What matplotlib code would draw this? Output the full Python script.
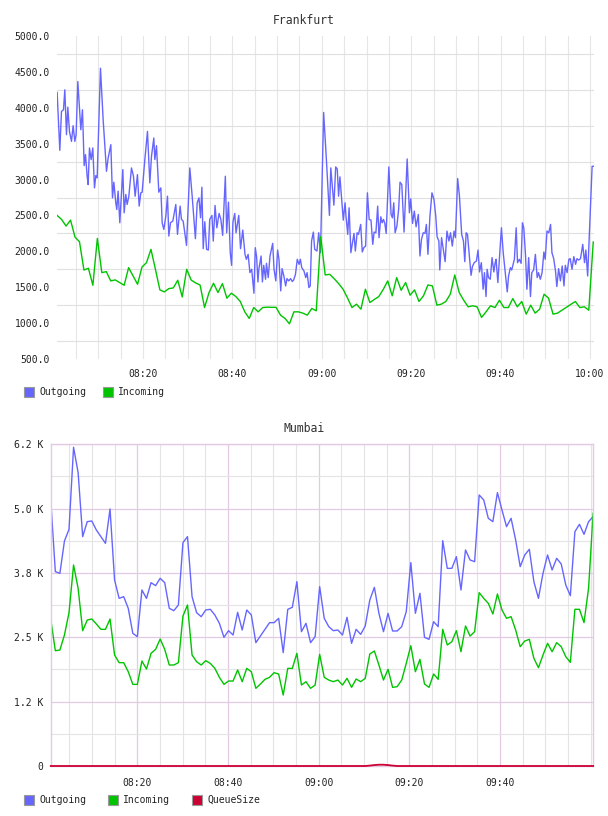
import numpy as np
import matplotlib
matplotlib.use("Agg")
import matplotlib.pyplot as plt
from matplotlib.patches import Rectangle

plt.rcParams['font.family'] = ['DejaVu Sans Mono', 'DejaVu Sans']

# x positions are minutes after 08:00
time_labels = ["08:20", "08:40", "09:00", "09:20", "09:40", "10:00"]

# ---- Frankfurt ----
fra_out_min = [
    0.75, 1.35, 1.72, 2.17, 2.47, 2.84, 3.14, 3.51, 3.96, 4.33, 4.71, 5.0, 5.38, 6.05, 6.42,
    6.8, 7.1, 7.47, 7.69, 7.99, 8.36, 8.73, 9.11, 9.41, 9.71, 10.45, 11.05, 11.8, 12.17, 12.77,
    13.14, 13.44, 13.88, 14.1, 14.4, 14.78, 15.45, 15.75, 16.12, 16.42, 16.8, 17.39, 17.84, 18.21,
    18.73, 19.11, 19.48, 19.78, 20.38, 20.97, 21.5, 21.87, 22.39, 22.62, 22.99, 23.51, 23.96,
    24.26, 24.63, 25.08, 25.45, 25.75, 26.12, 26.64, 27.31, 27.69, 28.28, 28.58, 28.96, 29.71,
    30.45, 31.0, 31.7, 32.1, 32.5, 32.85, 33.15, 33.45, 33.8, 34.2, 34.6, 34.9, 35.4, 35.7, 36.1,
    36.5, 37.0, 37.4, 37.8, 38.4, 38.7, 39.1, 39.5, 39.8, 40.1, 40.5, 40.8, 41.4, 41.8, 42.3,
    42.8, 43.1, 43.5, 43.9, 44.3, 44.8, 45.1, 45.4, 45.7, 45.9, 46.4, 46.7, 47.0, 47.4, 47.6,
    48.0, 48.4, 49.0, 49.3, 49.7, 50.1, 50.4, 50.8, 51.1, 51.5, 51.9, 52.2, 52.6, 53.0, 53.4,
    53.7, 54.1, 54.5, 54.9, 55.2, 55.5, 56.0, 56.4, 56.7, 57.1, 57.4, 57.7, 58.1, 58.4, 58.9,
    59.3, 59.7, 60.4, 61.0, 61.7, 62.0, 62.7, 63.1, 63.45, 63.75, 64.05, 64.8, 65.2, 65.4, 65.8,
    66.1, 66.5, 67.2, 67.5, 67.9, 68.2, 68.7, 69.05, 69.4, 69.8, 70.2, 70.6, 71.0, 71.4, 71.7,
    72.1, 72.5, 72.8, 73.2, 73.5, 73.8, 74.1, 74.4, 75.0, 75.5, 75.8, 76.1, 76.4, 76.8, 77.2,
    77.5, 77.9, 78.4, 79.1, 79.6, 79.9, 80.3, 80.7, 81.1, 81.6, 81.96, 82.3, 82.7, 83.1, 83.4,
    83.75, 84.2, 84.65, 85.1, 85.5, 85.8, 86.2, 86.4, 86.8, 87.2, 87.6, 88.0, 88.45, 88.8, 89.2,
    89.6, 89.9, 90.4, 90.8, 91.3, 91.7, 92.0, 92.3, 92.6, 93.4, 93.7, 94.1, 94.6, 94.96, 95.3,
    95.7, 96.1, 96.4, 96.75, 97.0, 97.3, 97.7, 98.1, 98.5, 98.8, 99.0, 99.4, 100.2, 100.6, 100.9,
    101.5, 101.8, 102.2, 102.5, 103.1, 103.5, 103.8, 104.2, 104.6, 104.9, 105.2, 105.6, 105.9,
    106.3, 106.7, 107.0, 107.4, 107.8, 108.2, 108.5, 108.9, 109.3, 109.7, 110.0, 110.4, 110.8,
    111.2, 111.5, 111.9, 112.3, 112.6, 113.0, 113.4, 113.8, 114.2, 114.5, 114.9, 115.3, 115.6,
    116.0, 116.4, 116.8, 117.1, 117.5, 117.9, 118.4, 118.8, 119.1, 119.5, 120.1, 120.5, 120.9,
]
fra_out_val = [
    4213, 3407, 3949, 3972, 4250, 3625, 4009, 3671, 3532, 3750, 3532, 3625, 4366, 3694, 3972,
    3194, 3347, 3046, 2930, 3440, 3278, 3440, 2884, 3055, 3023, 4551, 3833, 3115, 3301, 3486,
    2745, 2963, 2676, 2583, 2838, 2398, 3139, 2537, 2792, 2653, 2768, 3162, 3046, 2768,
    3069, 2630, 2815, 2824, 3278, 3671, 2954, 3324, 3579, 3278, 3472, 2824, 2884,
    2398, 2305, 2491, 2768, 2213, 2398, 2421, 2653, 2236, 2630, 2444, 2421, 2083,
    3162, 2750, 2176, 2676, 2745, 2467, 2893, 2037, 2412, 2028, 2018, 2444, 2500, 2143, 2639,
    2328, 2528, 2444, 2222, 3046, 2259, 2685, 1981, 1805, 2407, 2528, 2259, 2500, 2037, 2296,
    1958, 1889, 1958, 1703, 1750, 1416, 2051, 1926, 1574, 1750, 1935, 1574, 1805, 1611, 1833,
    1634, 1935, 2111, 1750, 1588, 2018, 1889, 1449, 1759, 1657, 1518, 1620, 1588, 1620, 1579,
    1602, 1680, 1889, 1819, 1889, 1773, 1727, 1634, 1703, 1495, 1518, 2143, 2268, 2028, 2004,
    2259, 1981, 3935, 3300, 2500, 3162, 2643, 3176, 3148, 2768, 3037, 2435, 2676, 2491, 2236,
    2606, 1981, 2250, 2004, 2259, 2236, 2375, 1991, 2051, 2074, 2815, 2444, 2435, 2097, 2268,
    2259, 2630, 2190, 2481, 2398, 2444, 2389, 2250, 3176, 2514, 2467, 2676, 2259, 2352, 2592,
    2963, 2930, 2268, 3287, 2537, 2731, 2389, 2560, 2342, 2514, 1935, 2166, 2259, 2250, 2375,
    1958, 2491, 2815, 2722, 2491, 2203, 2143, 1740, 2190, 2028, 1856, 2282, 2143, 2259, 2074,
    2282, 2190, 3014, 2768, 2236, 2143, 1856, 2259, 2236, 1666, 1787, 1842, 1865, 2018, 1713,
    1842, 1472, 1703, 1370, 1750, 1634, 1611, 1912, 1713, 1842, 1889, 1565, 2328, 1981, 1796,
    1435, 1657, 1773, 1740, 1889, 2328, 1842, 1889, 1833, 2398, 2328, 1935, 1472,
    1912, 1370, 1703, 1740, 1958, 1634, 1703, 1611, 1703, 1991, 1889, 2282, 2259,
    2375, 1981, 1898, 1727, 1509, 1759, 1588, 1796, 1518, 1805, 1703, 1889, 1898,
    1750, 1926, 1819, 1898, 1879, 1898, 2097, 1842, 2018, 1657, 2583, 3185, 3185,
]

fra_in_start = 0.75   # 08:00:45, one sample per minute
fra_in_val = [
    2500, 2444, 2352, 2435, 2199, 2134, 1740, 1764, 1527, 2180,
    1704, 1717, 1588, 1602, 1565, 1527, 1773, 1657, 1541, 1782,
    1842, 2028, 1750, 1463, 1435, 1481, 1490, 1597, 1365, 1750,
    1600, 1560, 1530, 1217, 1426, 1555, 1426, 1551, 1347, 1417,
    1370, 1301, 1157, 1065, 1217, 1157, 1217, 1222, 1220, 1220,
    1111, 1065, 990, 1157, 1157, 1139, 1111, 1204, 1171, 2204,
    1671, 1680, 1620, 1551, 1472, 1350, 1217, 1264, 1194, 1472,
    1287, 1330, 1370, 1470, 1588, 1380, 1634, 1458, 1565, 1389,
    1463, 1301, 1380, 1532, 1518, 1250, 1264, 1301, 1403, 1671,
    1426, 1319, 1227, 1241, 1227, 1079, 1157, 1241, 1217, 1319,
    1217, 1217, 1342, 1227, 1301, 1125, 1250, 1139, 1194, 1403,
    1347, 1125, 1139, 1180, 1220, 1262, 1301, 1217, 1227, 1180,
    2130,
]

# ---- Mumbai ----
mum_start = 55 / 60.0   # 08:00:55
mum_step = 60.3 / 60.0
mum_out = [
    5155, 3776, 3743, 4371, 4598, 6192, 5699, 4456, 4747, 4760,
    4585, 4456, 4326, 4993, 3614, 3257, 3290, 3063, 2577, 2513,
    3420, 3257, 3562, 3504, 3646, 3562, 3063, 3018, 3128, 4339,
    4456, 3290, 2979, 2901, 3031, 3044, 2934, 2772, 2500, 2629,
    2545, 2985, 2642, 3031, 2934, 2396, 2526, 2655, 2785, 2785,
    2869, 2202, 3044, 3083, 3582, 2610, 2772, 2396, 2513, 3484,
    2869, 2707, 2629, 2642, 2545, 2888, 2383, 2655, 2558, 2720,
    3225, 3471, 2966, 2610, 2966, 2623, 2623, 2707, 3000, 3951,
    2966, 3355, 2500, 2461, 2804, 2707, 4378, 3840, 3840, 4067,
    3419, 4197, 4002, 3970, 5265, 5168, 4812, 4747, 5311, 4974,
    4650, 4812, 4391, 3873, 4100, 4210, 3581, 3257, 3743, 4100,
    3808, 4035, 3925, 3517, 3309, 4553, 4695, 4501, 4747, 4844,
]
mum_in = [
    2849, 2240, 2253, 2545, 2979, 3905, 3452, 2629, 2836, 2856,
    2759, 2655, 2655, 2856, 2156, 2007, 2007, 1832, 1586, 1586,
    2040, 1884, 2189, 2266, 2467, 2266, 1962, 1962, 2007, 2914,
    3128, 2156, 2027, 1962, 2046, 1994, 1897, 1722, 1586, 1651,
    1651, 1865, 1638, 1897, 1832, 1509, 1593, 1684, 1722, 1813,
    1787, 1379, 1897, 1897, 2189, 1573, 1638, 1509, 1573, 2169,
    1722, 1670, 1638, 1670, 1573, 1703, 1528, 1690, 1638, 1703,
    2176, 2234, 1962, 1670, 1878, 1528, 1541, 1670, 1994, 2338,
    1832, 2072, 1593, 1528, 1787, 1684, 2655, 2351, 2415, 2629,
    2221, 2720, 2525, 2610, 3368, 3257, 3160, 2953, 3342, 3031,
    2869, 2901, 2642, 2318, 2428, 2461, 2092, 1910, 2156, 2383,
    2221, 2396, 2318, 2124, 2014, 3044, 3044, 2785, 3452, 4909,
]
mum_queue = [0] * 70 + [8, 18, 25, 25, 18, 8] + [0] * 44

mum_ticks = [0, 1250, 2500, 3750, 5000, 6250]
mum_tick_labels = ["0", "1.2 K", "2.5 K", "3.8 K", "5.0 K", "6.2 K"]

BLUE = "#6666ff"
GREEN = "#00c400"
RED = "#cc0033"


def to_min(s):
    h, m = s.split(":")
    return (int(h) - 8) * 60 + int(m)


W, H = 608, 816
fig = plt.figure(figsize=(W / 100, H / 100), dpi=100)


def legend(items, y, xs):
    for (name, col), x in zip(items, xs):
        fig.patches.append(Rectangle((x / W, 1 - (y + 5) / H), 10 / W, 10 / H,
                                     transform=fig.transFigure, facecolor=col,
                                     edgecolor="#999999", lw=0.8))
        fig.text((x + 15) / W, 1 - y / H, name, fontsize=7, va="center", ha="left", color="#222222")


# Frankfurt panel
ax1 = fig.add_axes([57 / W, 1 - 359 / H, 537 / W, 323 / H])
fra_in_min = fra_in_start + np.arange(len(fra_in_val))
ax1.plot(fra_out_min, fra_out_val, color=BLUE, lw=1.0)
ax1.plot(fra_in_min, fra_in_val, color=GREEN, lw=1.0)
ax1.set_xlim(0.72, 120.92)
ax1.set_ylim(500, 5000)
ax1.set_yticks(np.arange(500, 5001, 500))
ax1.set_yticklabels([f"{v:.1f}" for v in np.arange(500, 5001, 500)])
ax1.set_yticks(np.arange(750, 4751, 500), minor=True)
ax1.set_xticks([to_min(t) for t in time_labels])
ax1.set_xticklabels(time_labels)
ax1.set_xticks(np.arange(5, 121, 5), minor=True)
ax1.grid(axis="y", which="minor", color="#e0e0e0", lw=0.8)
ax1.grid(axis="x", which="both", color="#e6e6e6", lw=0.8)
ax1.set_axisbelow(True)
for s in ax1.spines.values():
    s.set_visible(False)
ax1.tick_params(axis="both", which="both", length=0, labelsize=7, colors="#222222")
ax1.tick_params(axis="y", pad=5)
ax1.tick_params(axis="x", pad=7.5)
fig.text(304 / W, 1 - 20 / H, "Frankfurt", fontsize=8.3, ha="center", va="center", color="#333333")
legend([("Outgoing", BLUE), ("Incoming", GREEN)], 392, [24, 103])

# Mumbai panel
ax2 = fig.add_axes([50.7 / W, 1 - 766 / H, 542.6 / W, 321.7 / H])
mum_min = mum_start + mum_step * np.arange(len(mum_out))
ax2.plot(mum_min, mum_out, color=BLUE, lw=1.0)
ax2.plot(mum_min, mum_in, color=GREEN, lw=1.0)
ax2.plot(mum_min, mum_queue, color=RED, lw=1.3, clip_on=False, zorder=4)
ax2.set_xlim(0.9, 120.55)
ax2.set_ylim(0, 6250)
ax2.set_yticks(mum_ticks)
ax2.set_yticklabels(mum_tick_labels)
ax2.set_yticks(np.arange(625, 6250, 1250), minor=True)
ax2.set_xticks([to_min(t) for t in time_labels[:-1]])
ax2.set_xticklabels(time_labels[:-1])
ax2.set_xticks(np.arange(5, 121, 5), minor=True)
ax2.grid(which="major", color="#e2cbe2", lw=0.9)
ax2.grid(which="minor", color="#e4e4e4", lw=0.8)
ax2.set_axisbelow(True)
for s in ax2.spines.values():
    s.set_color("#e2cbe2")
    s.set_linewidth(1.0)
ax2.tick_params(axis="both", which="both", length=0, labelsize=7, colors="#222222")
ax2.tick_params(axis="y", pad=5.5)
ax2.tick_params(axis="x", pad=8.5)
fig.text(304 / W, 1 - 429 / H, "Mumbai", fontsize=8.3, ha="center", va="center", color="#333333")
legend([("Outgoing", BLUE), ("Incoming", GREEN), ("QueueSize", RED)], 800, [24, 108, 192])

fig.savefig("out.png", dpi=100)
